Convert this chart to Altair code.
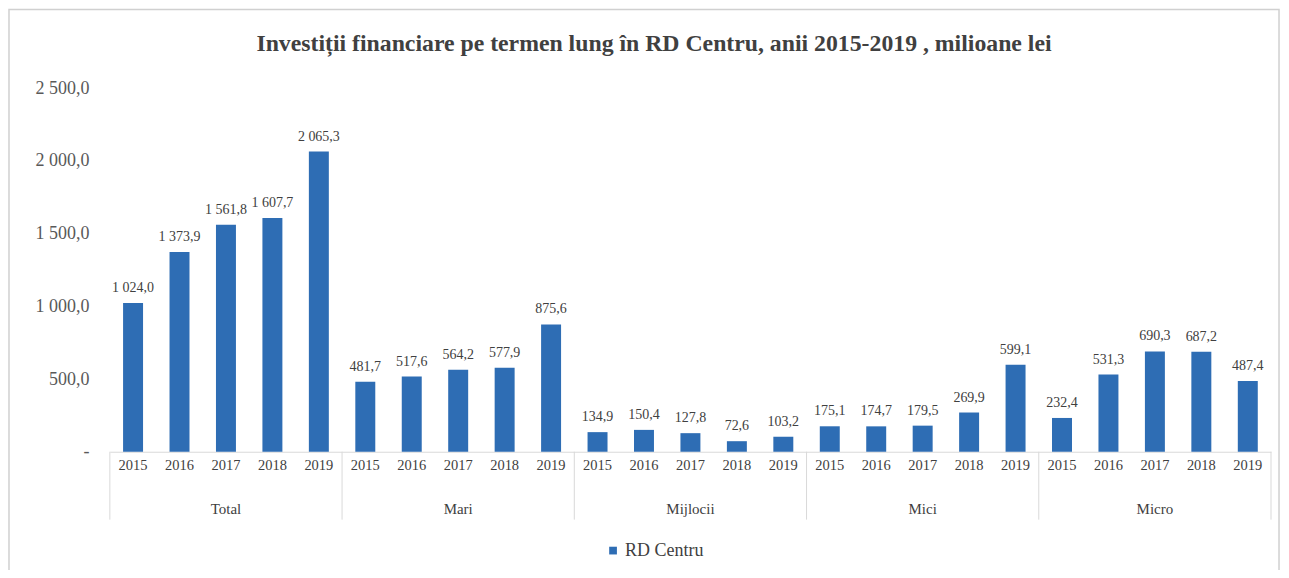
import altair as alt
import pandas as pd

groups = ["Total", "Mari", "Mijlocii", "Mici", "Micro"]
years = ["2015", "2016", "2017", "2018", "2019"]
values = {
    "Total":    [1024.0, 1373.9, 1561.8, 1607.7, 2065.3],
    "Mari":     [481.7, 517.6, 564.2, 577.9, 875.6],
    "Mijlocii": [134.9, 150.4, 127.8, 72.6, 103.2],
    "Mici":     [175.1, 174.7, 179.5, 269.9, 599.1],
    "Micro":    [232.4, 531.3, 690.3, 687.2, 487.4],
}
series_name = "RD Centru"
title_text = "Investiții financiare pe termen lung în RD Centru, anii 2015-2019 , milioane lei"

rows = []
for g in groups:
    for y, v in zip(years, values[g]):
        rows.append({
            "group": g, "year": y, "key": f"{g}|{y}", "value": v,
            "label": f"{v:,.1f}".replace(",", " ").replace(".", ","),
            "series": series_name,
        })
df = pd.DataFrame(rows)
order = list(df["key"])

W, H = 1163, 364
SERIF = "Liberation Serif, Times New Roman, serif"
TXT = "#404040"
BAR = "#2E6DB4"

xenc = alt.X("key:N", sort=order, title=None,
             scale=alt.Scale(paddingInner=0, paddingOuter=0),
             axis=alt.Axis(labelExpr="split(datum.label, '|')[1]", labelAngle=0,
                           labelFont=SERIF, labelFontSize=14.5, labelColor=TXT,
                           labelPadding=7, ticks=False, domainColor="#d9d9d9",
                           labelBaseline="top"))

yenc = alt.Y("value:Q", title=None,
             scale=alt.Scale(domain=[0, 2500], nice=False),
             axis=alt.Axis(values=[0, 500, 1000, 1500, 2000, 2500],
                           labelExpr="datum.value == 0 ? '-' : replace(replace(format(datum.value, ',.1f'), ',', ' '), '.', ',')",
                           labelFont=SERIF, labelFontSize=18, labelColor="#595959",
                           labelPadding=21, ticks=False, domain=False, grid=False))

base = alt.Chart(df)

bars = base.mark_bar(width={"band": 0.43}).encode(
    x=xenc, y=yenc,
    color=alt.Color("series:N", scale=alt.Scale(range=[BAR]),
                    legend=alt.Legend(title=None, orient="none", legendX=495, legendY=454,
                                      symbolType="square", symbolSize=60,
                                      labelFont=SERIF, labelFontSize=18, labelColor=TXT,
                                      labelOffset=3)),
)

labels = base.mark_text(baseline="bottom", dy=-8, font=SERIF, fontSize=14, color=TXT).encode(
    x=alt.X("key:N", sort=order), y="value:Q", text="label:N")

group_labels = base.transform_filter(alt.datum.year == "2017").mark_text(
    font=SERIF, fontSize=15, color=TXT, baseline="middle").encode(
    x=alt.X("key:N", sort=order), y=alt.value(H + 57), text="group:N")

seps = base.transform_filter(alt.datum.year == "2015").mark_rule(color="#d9d9d9", strokeWidth=1).encode(
    x=alt.X("key:N", sort=order, bandPosition=0), y=alt.value(H), y2=alt.value(H + 68))

sep_end = base.transform_filter((alt.datum.year == "2019") & (alt.datum.group == "Micro")).mark_rule(
    color="#d9d9d9", strokeWidth=1).encode(
    x=alt.X("key:N", sort=order, bandPosition=1), y=alt.value(H), y2=alt.value(H + 68))

one = pd.DataFrame({"t": [title_text]})
frame = alt.Chart(one).mark_rect(
    fill=None, stroke="#d0d0d0", strokeWidth=1.5).encode(
    x=alt.value(-101), x2=alt.value(W + 8), y=alt.value(-79), y2=alt.value(H + 124))

title = alt.Chart(one).mark_text(font=SERIF, fontSize=23.8, fontWeight="bold", color=TXT,
                                 baseline="middle", align="center").encode(
    x=alt.value(545), y=alt.value(-44), text="t:N")

chart = alt.layer(frame, title, bars, labels, group_labels, seps, sep_end).properties(
    width=W, height=H,
    autosize=alt.AutoSizeParams(type="none"),
    padding={"left": 102, "top": 80, "right": 10, "bottom": 118},
).configure_view(stroke=None).configure_legend(labelFont=SERIF)

chart.save("out.html", embed_options={"renderer": "svg", "actions": False})
